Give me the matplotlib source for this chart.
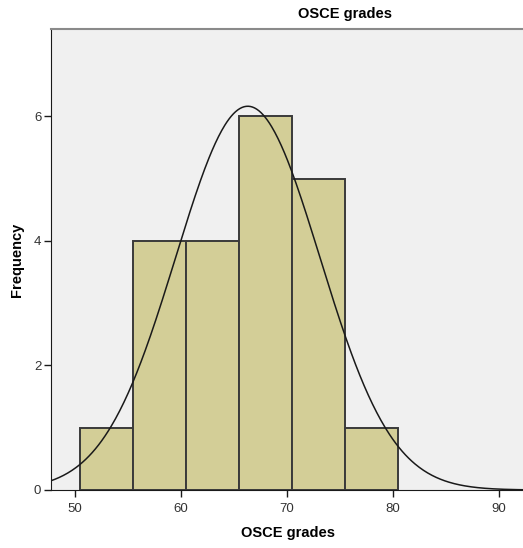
import numpy as np
import matplotlib
matplotlib.use('Agg')
import matplotlib.pyplot as plt

# Histogram of OSCE grades (SPSS style) with fitted normal curve
bin_edges = [50.5, 55.5, 60.5, 65.5, 70.5, 75.5, 80.5]
counts = [1, 4, 4, 6, 5, 1]
grade_mean = 66.3
grade_sd = 6.8
x_ticks = [50, 60, 70, 80, 90]
y_ticks = [0, 2, 4, 6]

plt.rcParams['font.family'] = ['Liberation Sans', 'DejaVu Sans']

fig = plt.figure(figsize=(5.23, 5.48), dpi=100)
ax = fig.add_axes([51 / 523, 58 / 548, 472 / 523, 461 / 548])
ax.set_facecolor('#f0f0f0')

# Bars
widths = np.diff(bin_edges)
ax.bar(bin_edges[:-1], counts, width=widths, align='edge',
       color='#d3ce97', edgecolor='#3a3a3a', linewidth=1.4, zorder=2)

# Normal curve scaled to counts
n = sum(counts)
bw = widths[0]
xs = np.linspace(40, 100, 600)
ys = n * bw / (grade_sd * np.sqrt(2 * np.pi)) * np.exp(-0.5 * ((xs - grade_mean) / grade_sd) ** 2)
ax.plot(xs, ys, color='#1a1a1a', linewidth=1.1, zorder=3)

ax.set_xlim(47.74, 92.26)
ax.set_ylim(0, 7.4)
ax.set_xticks(x_ticks)
ax.set_yticks(y_ticks)
ax.tick_params(axis='both', labelsize=9.5, labelcolor='#333333', length=5, width=1, color='#1a1a1a')
ax.tick_params(axis='x', pad=4)
ax.tick_params(axis='y', pad=2)

ax.spines['left'].set_color('#1a1a1a')
ax.spines['bottom'].set_color('#1a1a1a')
ax.spines['top'].set_color('#8a8a8a')
ax.spines['top'].set_linewidth(1.5)
ax.spines['right'].set_visible(False)

ax.set_xlabel('OSCE grades', fontsize=10.5, fontweight='bold')
ax.set_ylabel('Frequency', fontsize=10.5, fontweight='bold')
ax.xaxis.set_label_coords((288 - 51) / 472, (490 - 533) / 461)
ax.yaxis.set_label_coords((17 - 51) / 472, (490 - 260) / 461)
ax.xaxis.label.set_va('center')
ax.yaxis.label.set_va('center')
fig.text(345 / 523, 1 - 14 / 548, 'OSCE grades', ha='center', va='center',
         fontsize=10.5, fontweight='bold')

fig.savefig('out.png', dpi=100)
